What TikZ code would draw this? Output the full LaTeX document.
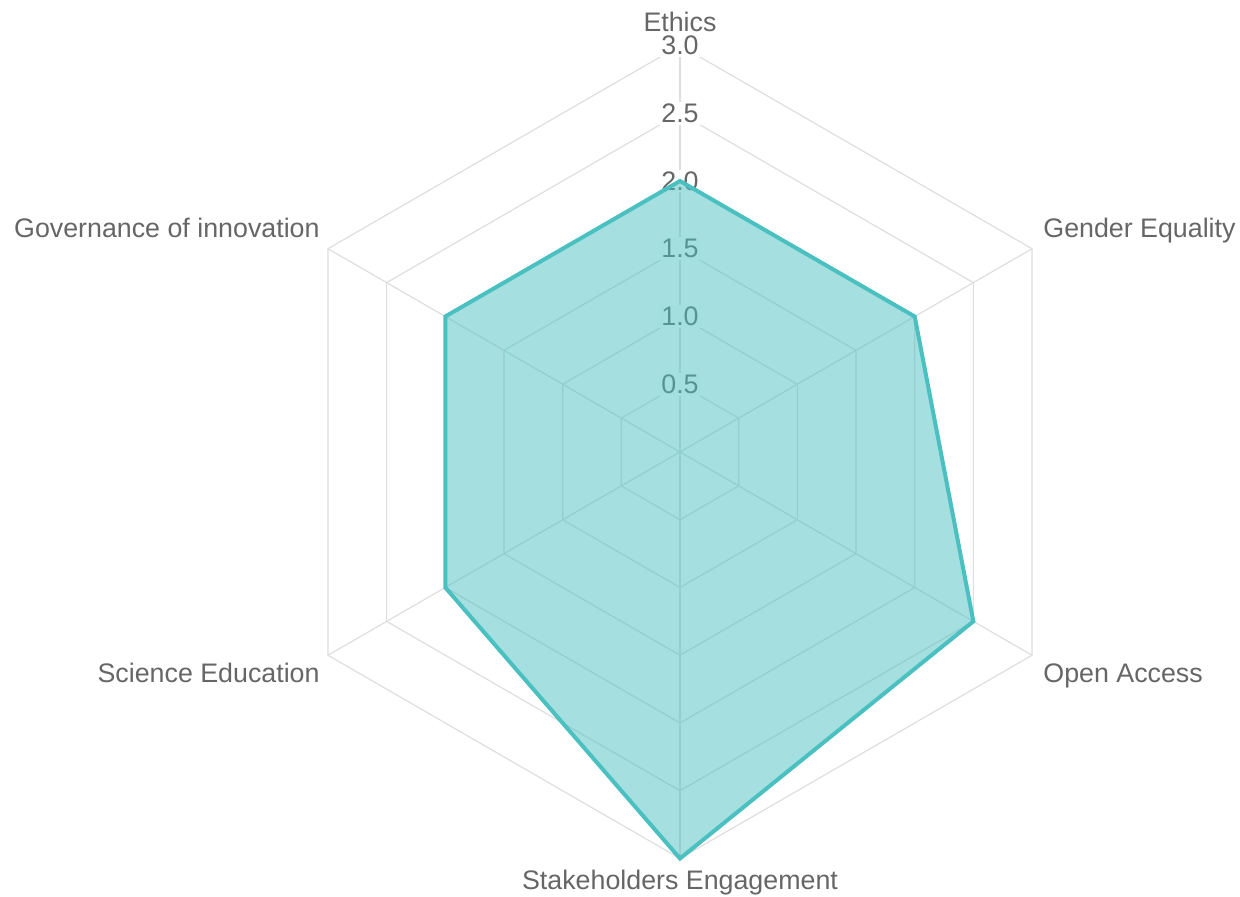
\documentclass[tikz,border=0pt]{standalone}
\usepackage{fontspec}
\setmainfont{Liberation Sans}
\usetikzlibrary{positioning}
\definecolor{gridgray}{RGB}{222,222,222}
\definecolor{labelgray}{RGB}{102,102,102}
\definecolor{radarteal}{RGB}{75,192,192}

\begin{document}
\begin{tikzpicture}[x=0.5pt, y=0.5pt,
  grid/.style = {draw=gridgray, line width=0.6pt},
  tick/.style = {fill=white, text=labelgray, inner sep=1pt, font=\fontsize{13.4}{16}\selectfont},
  axislabel/.style = {text=labelgray, inner sep=0pt, font=\fontsize{13.4}{16}\selectfont},
  series/.style = {draw=radarteal, fill=radarteal, fill opacity=0.5, line width=2pt}]
  \useasboundingbox (-680,-445) rectangle (560,452);
  % rings and spokes
  \foreach \r in {1,...,6}
    \draw[grid] (90:\r*67.75) -- (30:\r*67.75) -- (-30:\r*67.75) -- (-90:\r*67.75)
      -- (210:\r*67.75) -- (150:\r*67.75) -- cycle;
  \foreach \a in {90,30,-30,-90,210,150}
    \draw[grid] (0,0) -- (\a:406.5);
  % scale ticks
  \foreach \v [count=\i] in {0.5,1.0,1.5,2.0,2.5,3.0}
    \node[tick] (tick\i) at (0,\i*67.75) {\v};
  % data
  \coordinate (ethics) at (90:271);
  \coordinate (gender) at (30:271);
  \coordinate (access) at (-30:338.75);
  \coordinate (stake) at (-90:406.5);
  \coordinate (science) at (210:271);
  \coordinate (govern) at (150:271);
  \draw[series] (ethics) -- (gender) -- (access) -- (stake) -- (science) -- (govern) -- cycle;
  % axis labels
  \node[axislabel, anchor=base] (lethics) at (0,420.5) {Ethics};
  \node[axislabel, anchor=base west] (lgender) at (363,214) {Gender Equality};
  \node[axislabel, anchor=base west] (laccess) at (363,-231) {Open Access};
  \node[axislabel, anchor=base] (lstake) at (0,-437) {Stakeholders Engagement};
  \node[axislabel, anchor=base east] (lscience) at (-360,-231) {Science Education};
  \node[axislabel, anchor=base east] (lgovern) at (-360,214) {Governance of innovation};
\end{tikzpicture}
\end{document}
